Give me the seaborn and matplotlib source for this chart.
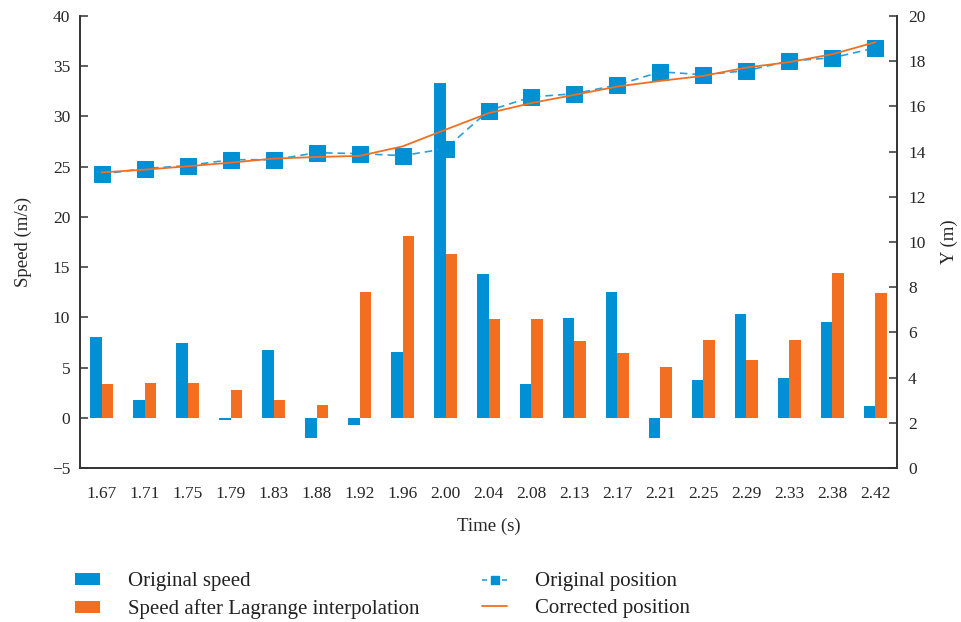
import numpy as np
import pandas as pd
import seaborn as sns
import matplotlib.pyplot as plt
from matplotlib.patches import Patch
from matplotlib.lines import Line2D

# Data
times = ['1.67', '1.71', '1.75', '1.79', '1.83', '1.88', '1.92', '1.96', '2.00', '2.04',
         '2.08', '2.13', '2.17', '2.21', '2.25', '2.29', '2.33', '2.38', '2.42']
original_speed = [8.0, 1.8, 7.4, -0.2, 6.7, -2.0, -0.7, 6.5, 33.3, 14.3,
                  3.4, 9.9, 12.5, -2.0, 3.8, 10.3, 4.0, 9.5, 1.2]
lagrange_speed = [3.4, 3.5, 3.5, 2.8, 1.8, 1.3, 12.5, 18.1, 16.3, 9.8,
                  9.8, 7.6, 6.4, 5.1, 7.7, 5.8, 7.7, 14.4, 12.4]
original_pos = [13.0, 13.25, 13.38, 13.64, 13.64, 13.95, 13.91, 13.82, 14.13, 15.81,
                16.42, 16.56, 16.95, 17.53, 17.40, 17.58, 18.01, 18.15, 18.59]
corrected_pos = [13.08, 13.2, 13.35, 13.51, 13.69, 13.76, 13.81, 14.23, 14.97, 15.70,
                 16.15, 16.51, 16.88, 17.13, 17.35, 17.72, 17.96, 18.31, 18.84]

BLUE = '#0090d3'
ORANGE = '#f26f22'
DASH_BLUE = '#2a9fdc'

sns.set_theme(style='white')
plt.rcParams['font.family'] = ['Liberation Serif', 'DejaVu Serif']
plt.rcParams['text.color'] = '#222222'

df = pd.DataFrame({
    'time': times * 2,
    'speed': original_speed + lagrange_speed,
    'series': ['Original speed'] * len(times) + ['Speed after Lagrange interpolation'] * len(times),
})

fig = plt.figure(figsize=(9.62, 6.22), dpi=100)
ax = fig.add_axes([0.0832, 0.2476, 0.8492, 0.7267])

sns.barplot(data=df, x='time', y='speed', hue='series', order=times,
            palette=[BLUE, ORANGE], width=0.52, saturation=1, linewidth=0,
            ax=ax, legend=False)
ax.set_ylim(-5, 40)
ax.set_yticks(np.arange(-5, 41, 5))
ax.set_xlim(-0.5, len(times) - 0.5)
ax.set_xlabel('Time (s)', fontsize=13.5, labelpad=11)
ax.set_ylabel('Speed (m/s)', fontsize=13.5, labelpad=14)

ax2 = ax.twinx()
x_pos = np.arange(len(times))
sns.lineplot(x=x_pos, y=original_pos, ax=ax2, color=DASH_BLUE, linestyle=(0, (4.5, 3)),
             linewidth=1.2, marker='s', markersize=11.5, markerfacecolor=BLUE,
             markeredgecolor=BLUE, zorder=3)
sns.lineplot(x=x_pos, y=corrected_pos, ax=ax2, color=ORANGE, linewidth=1.3, zorder=4)
ax2.set_ylim(0, 20)
ax2.set_yticks(np.arange(0, 21, 2))
ax2.set_ylabel('Y (m)', fontsize=13.5, labelpad=11)

# tick styling: inward ticks, x ticks between categories
ax.tick_params(axis='x', which='major', length=0, labelsize=12.5, pad=13)
ax.set_xticks(np.arange(0.5, len(times) - 1, 1), minor=True)
ax.tick_params(axis='x', which='minor', direction='in', length=6, width=1.1, color='#333333')
ax.tick_params(axis='y', direction='in', length=6, width=1.1, color='#333333',
               labelsize=12.5, left=True, pad=7)
ax2.tick_params(axis='y', direction='in', length=6, width=1.1, color='#333333',
                labelsize=12.5, right=True, pad=8)

for a in (ax, ax2):
    a.spines['top'].set_visible(False)
    for s in ('left', 'right', 'bottom'):
        a.spines[s].set_color('#333333')
        a.spines[s].set_linewidth(1.2)

handles = [
    Patch(facecolor=BLUE, edgecolor='none'),
    Patch(facecolor=ORANGE, edgecolor='none'),
    Line2D([], [], color=DASH_BLUE, linestyle=(0, (3, 3)), linewidth=1.2, marker='s',
           markersize=6, markerfacecolor=BLUE, markeredgecolor=BLUE),
    Line2D([], [], color=ORANGE, linewidth=1.3),
]
labels = ['Original speed', 'Speed after Lagrange interpolation',
          'Original position', 'Corrected position']
fig.legend(handles, labels, loc='upper left', bbox_to_anchor=(0.078, 0.080),
           ncol=2, frameon=False, fontsize=15, handlelength=1.2, handleheight=0.5,
           handletextpad=1.35, columnspacing=3.0, labelspacing=0.38,
           borderpad=0, borderaxespad=0)

fig.savefig('out.png', dpi=100)
